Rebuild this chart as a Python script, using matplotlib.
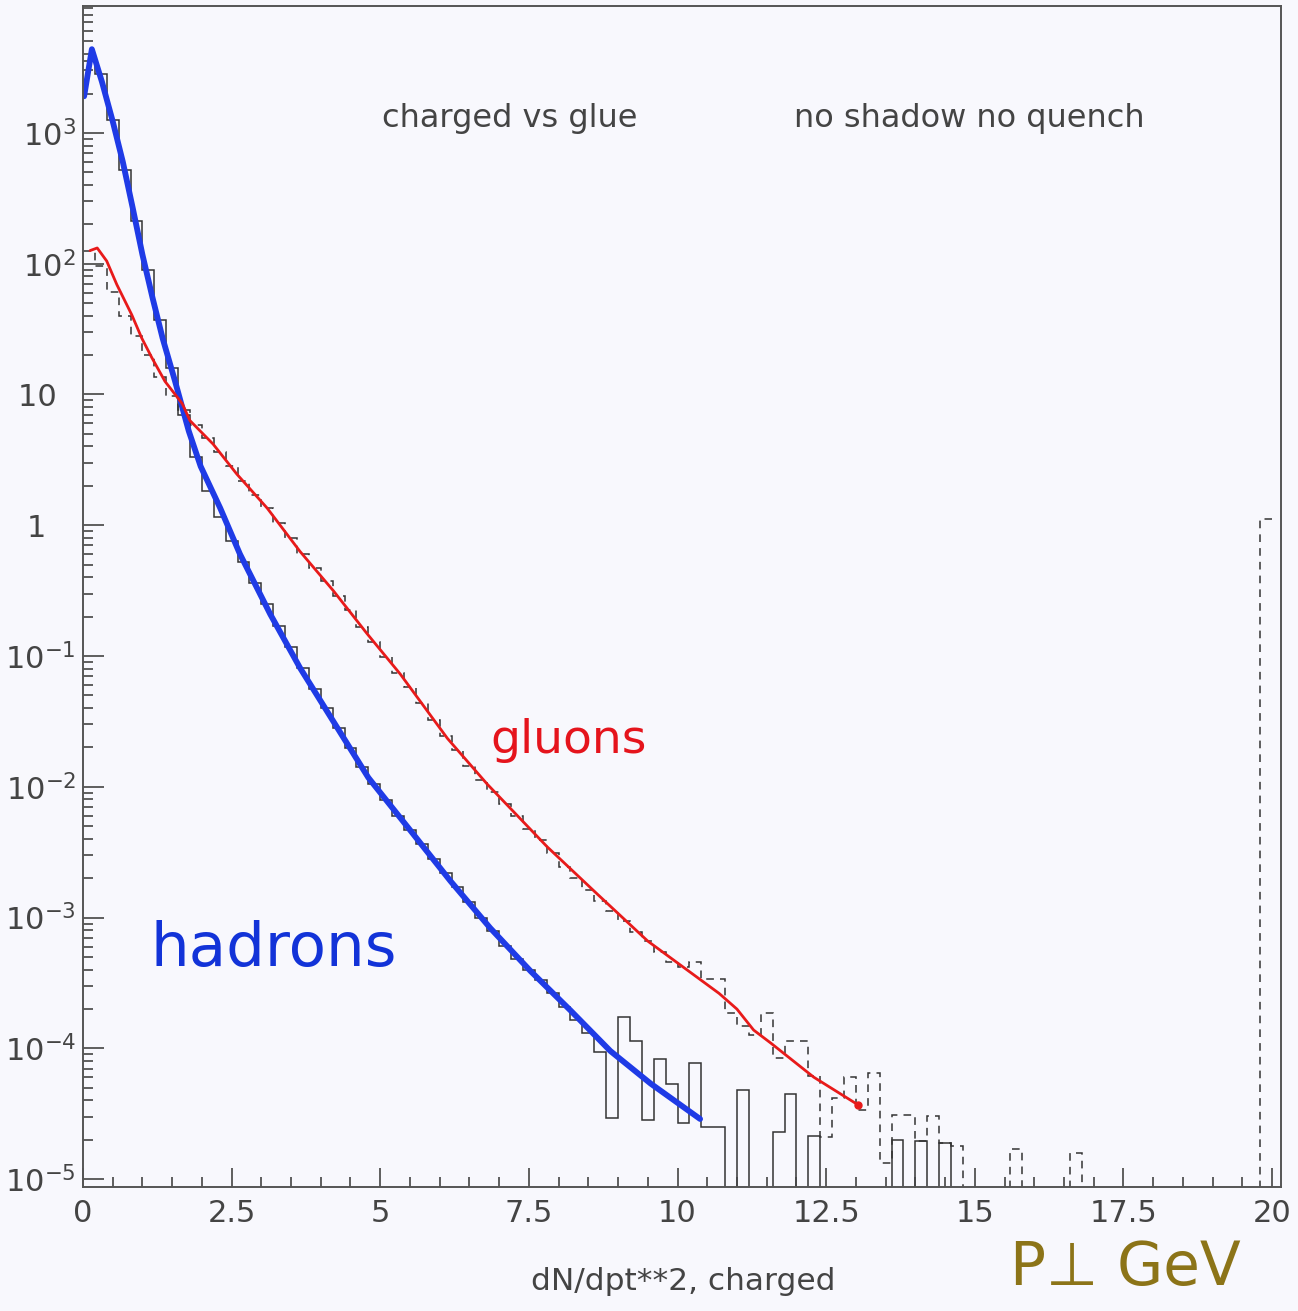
import numpy as np
import matplotlib
matplotlib.use("Agg")
import matplotlib.pyplot as plt
from matplotlib.ticker import FixedLocator, NullFormatter, FuncFormatter, MultipleLocator

# histogram binning: 100 bins of 0.2 GeV from 0 to 20
bin_edges = np.linspace(0, 20, 101)

# log10 of bin contents (None = empty bin)
hadron_log = [3.55, 3.45, 3.10, 2.72, 2.33, 1.95, 1.57, 1.20, 0.84, 0.52,
              0.26, 0.06, -0.12, -0.28, -0.44, -0.60, -0.77, -0.93, -1.09, -1.25,
              -1.40, -1.55, -1.70, -1.85, -1.98, -2.10, -2.22, -2.33, -2.44, -2.55,
              -2.66, -2.77, -2.88, -3.00, -3.10, -3.22, -3.32, -3.40, -3.48, -3.58,
              -3.68, -3.78, -3.88, -4.03, -4.53, -3.76, -3.94, -4.55, -4.08, -4.27,
              -4.57, -4.11, -4.60, -4.60, None, -4.32, None, None, -4.64, -4.35,
              None, -4.67, None, None, None, None, None, None, -4.70, None,
              -4.71, None, -4.72] + [None] * 27

gluon_log = [2.10, 1.98, 1.78, 1.60, 1.45, 1.30, 1.13, 0.99, 0.88, 0.77,
             0.67, 0.56, 0.45, 0.34, 0.23, 0.13, 0.02, -0.10, -0.22, -0.33,
             -0.43, -0.54, -0.65, -0.78, -0.89, -1.01, -1.13, -1.24, -1.36, -1.49,
             -1.61, -1.72, -1.84, -1.95, -2.04, -2.13, -2.22, -2.32, -2.41, -2.51,
             -2.61, -2.70, -2.79, -2.87, -2.95, -3.03, -3.11, -3.18, -3.26, -3.34,
             -3.38, -3.34, -3.47, -3.47, -3.73, -3.83, -3.90, -3.73, -4.07, -3.94,
             -3.94, -4.21, -4.68, -4.38, -4.22, -4.47, -4.19, -4.88, -4.51, -4.51,
             -4.71, -4.52, -4.72, -4.75, None, None, None, None, -4.77, None,
             None, None, None, -4.80] + [None] * 15 + [0.05]

# hand-drawn smooth curves (x in GeV, log10 of value)
hadron_curve_x = [0.02, 0.15, 0.32, 0.5, 0.67, 0.84, 1.0, 1.17, 1.34, 1.55, 1.78, 1.98,
                  2.31, 2.64, 3.15, 3.65, 4.28, 4.8, 5.5, 6.18, 6.85, 7.53, 8.2, 8.87,
                  9.55, 10.38]
hadron_curve_log = [3.28, 3.64, 3.39, 3.09, 2.78, 2.42, 2.07, 1.74, 1.43, 1.10, 0.72, 0.45,
                    0.13, -0.22, -0.68, -1.09, -1.55, -1.93, -2.33, -2.72, -3.08, -3.41,
                    -3.71, -4.02, -4.27, -4.54]

gluon_curve_x = [0.12, 0.24, 0.40, 0.57, 0.82, 0.99, 1.16, 1.38, 1.67, 1.8, 2.19, 2.59,
                 3.1, 3.65, 4.21, 4.78, 5.34, 6.13, 6.8, 7.81, 8.65, 9.5, 10.34, 10.7,
                 11.0, 11.28, 11.57, 12.29, 13.03]
gluon_curve_log = [2.10, 2.12, 2.02, 1.84, 1.61, 1.43, 1.28, 1.10, 0.93, 0.80, 0.62, 0.39,
                   0.13, -0.20, -0.50, -0.83, -1.14, -1.63, -1.98, -2.46, -2.82, -3.18,
                   -3.46, -3.58, -3.70, -3.86, -3.96, -4.22, -4.43]

y_decades = [-5, -4, -3, -2, -1, 0, 1, 2, 3]


def to_values(logs):
    # empty bins are pushed far below the axis so the outline drops to the bottom
    return np.array([10.0 ** v if v is not None else 1e-9 for v in logs])


bg = '#f8f8fd'
ink = '#444444'
plt.rcParams['font.family'] = ['DejaVu Sans']

fig = plt.figure(figsize=(12.98, 13.11), dpi=100, facecolor=bg)
ax = fig.add_axes([0.0639, 0.0946, 0.9230, 0.9008], facecolor=bg)

ax.stairs(to_values(hadron_log), bin_edges, baseline=None, color='#333333', lw=1.1)
ax.stairs(to_values(gluon_log), bin_edges, baseline=None, color='#333333', lw=1.1,
          linestyle=(0, (5, 4)))

ax.plot(hadron_curve_x, 10.0 ** np.array(hadron_curve_log), color='#1f3be6', lw=4.2,
        solid_capstyle='round', solid_joinstyle='round')
ax.plot(gluon_curve_x, 10.0 ** np.array(gluon_curve_log), color='#e81a1a', lw=2.0,
        solid_capstyle='round', solid_joinstyle='round')
ax.plot(gluon_curve_x[-1], 10.0 ** gluon_curve_log[-1], 'o', color='#e81a1a', ms=5)

ax.set_yscale('log')
ax.set_xlim(0, 20.15)
ax.set_ylim(10 ** -5.06, 10 ** 3.97)

ax.xaxis.set_major_locator(MultipleLocator(2.5))
ax.xaxis.set_minor_locator(MultipleLocator(0.5))
ax.xaxis.set_major_formatter(FuncFormatter(lambda v, p: ('%g' % v)))
ax.yaxis.set_major_locator(FixedLocator([10.0 ** e for e in y_decades]))
ax.yaxis.set_minor_locator(FixedLocator([m * 10.0 ** e for e in y_decades
                                         for m in range(2, 10)]))
ax.yaxis.set_minor_formatter(NullFormatter())


def ylab(v, pos):
    e = int(round(np.log10(v)))
    if e == 0:
        return '1   '
    if e == 1:
        return '10  '
    return r'$\mathregular{10^{%d}}$' % e


ax.yaxis.set_major_formatter(FuncFormatter(ylab))

ax.tick_params(which='both', direction='in', top=False, right=False, colors=ink,
               labelcolor=ink, labelsize=22)
ax.tick_params(axis='x', which='major', length=14, width=1.2, pad=9)
ax.tick_params(axis='x', which='minor', length=7, width=1.2)
ax.tick_params(axis='y', which='major', length=15, width=1.2, pad=5)
ax.tick_params(axis='y', which='minor', length=7, width=1.2)
for s in ax.spines.values():
    s.set_color('#555555')
    s.set_linewidth(1.4)

ax.text(0.356, 0.905, 'charged vs glue', transform=ax.transAxes, ha='center',
        va='center', fontsize=23, color=ink)
ax.text(0.740, 0.905, 'no shadow no quench', transform=ax.transAxes, ha='center',
        va='center', fontsize=23, color=ink)
fig.text(683 / 1298, 1 - 1282 / 1311, 'dN/dpt**2, charged', ha='center', va='center',
         fontsize=22.5, color=ink)

# handwritten annotations
ax.text(1.13, 10 ** -3.37, 'hadrons', fontsize=44, color='#1233d8', va='baseline')
ax.text(6.85, 10 ** -1.74, 'gluons', fontsize=34, color='#e5141c', va='baseline')
fig.text(0.778, 0.020, 'P\u22a5 GeV', fontsize=43, color='#8c7418', va='baseline')

fig.savefig('out.png', dpi=100, facecolor=bg)
